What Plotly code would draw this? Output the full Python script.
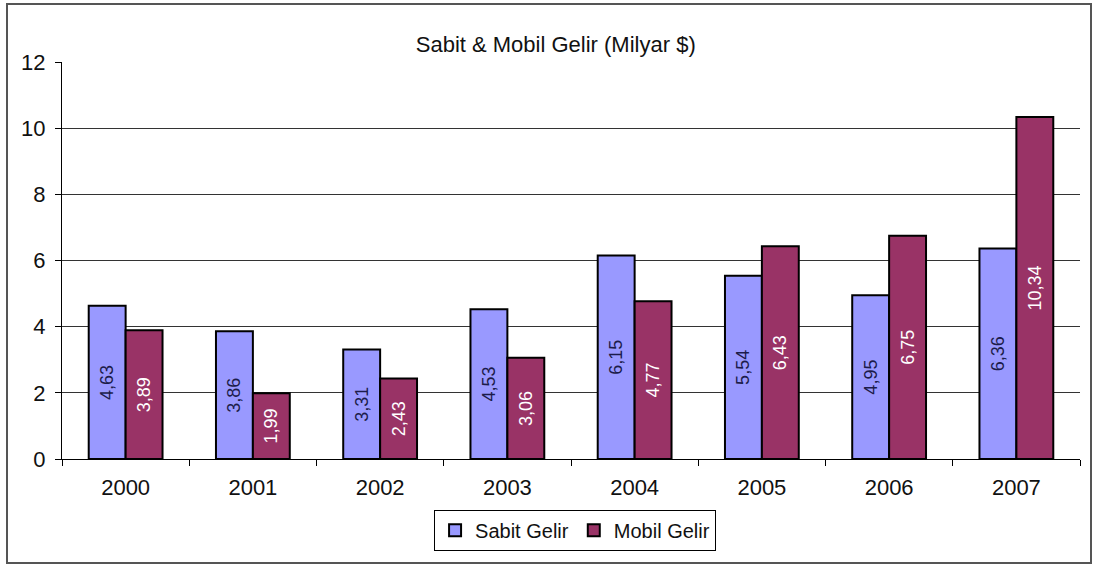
import plotly.graph_objects as go

years = ["2000", "2001", "2002", "2003", "2004", "2005", "2006", "2007"]
sabit = [4.63, 3.86, 3.31, 4.53, 6.15, 5.54, 4.95, 6.36]
mobil = [3.89, 1.99, 2.43, 3.06, 4.77, 6.43, 6.75, 10.34]


def fmt(v):
    return f"{v:.2f}".replace(".", ",")


FONT = "Arial, Liberation Sans, sans-serif"

fig = go.Figure()
fig.add_trace(go.Bar(
    name="Sabit Gelir", x=years, y=sabit,
    text=[fmt(v) for v in sabit], textposition="inside", textangle=-90,
    insidetextanchor="middle",
    textfont=dict(family=FONT, size=18, color="#1c1c4a"),
    marker=dict(color="#9999FF", line=dict(color="#000000", width=2)),
))
fig.add_trace(go.Bar(
    name="Mobil Gelir", x=years, y=mobil,
    text=[fmt(v) for v in mobil], textposition="inside", textangle=-90,
    insidetextanchor="middle",
    textfont=dict(family=FONT, size=18, color="#ffffff"),
    marker=dict(color="#993366", line=dict(color="#000000", width=2)),
))

fig.update_layout(
    width=1098, height=565,
    margin=dict(l=62, r=18, t=62, b=106),
    paper_bgcolor="white", plot_bgcolor="white",
    font=dict(family=FONT, color="#000000"),
    barmode="group", bargap=0.42, bargroupgap=0,
    title=dict(text="Sabit & Mobil Gelir (Milyar $)", x=0.485, xref="paper",
               xanchor="center", y=1 - 44 / 565, yanchor="middle",
               font=dict(size=22, color="#111111")),
    legend=dict(orientation="h", x=0.504, xanchor="center", y=-0.128, yanchor="top",
                bordercolor="#000000", borderwidth=1, font=dict(size=20, color="#111111"),
                itemwidth=30, tracegroupgap=0),
    showlegend=True,
    xaxis=dict(type="category", showgrid=False, showline=True, linecolor="#000000",
               linewidth=1, ticks="outside", tickson="boundaries", ticklen=6,
               tickcolor="#000000", tickfont=dict(size=22, color="#111111"),
               ticklabelstandoff=9),
    yaxis=dict(range=[0, 12], dtick=2, showgrid=True, gridcolor="#333333", gridwidth=1,
               showline=True, linecolor="#000000", linewidth=1, ticks="outside",
               ticklen=6, tickcolor="#000000", tickfont=dict(size=22, color="#111111"),
               zeroline=False, ticklabelstandoff=5),
    shapes=[dict(type="rect", xref="paper", yref="paper",
                 x0=(7 - 62) / 1018, x1=(1091 - 62) / 1018,
                 y0=(459 - 563) / 397, y1=(459 - 4) / 397,
                 line=dict(color="#555555", width=2), fillcolor="rgba(0,0,0,0)")],
)

fig.write_html("out.html")
